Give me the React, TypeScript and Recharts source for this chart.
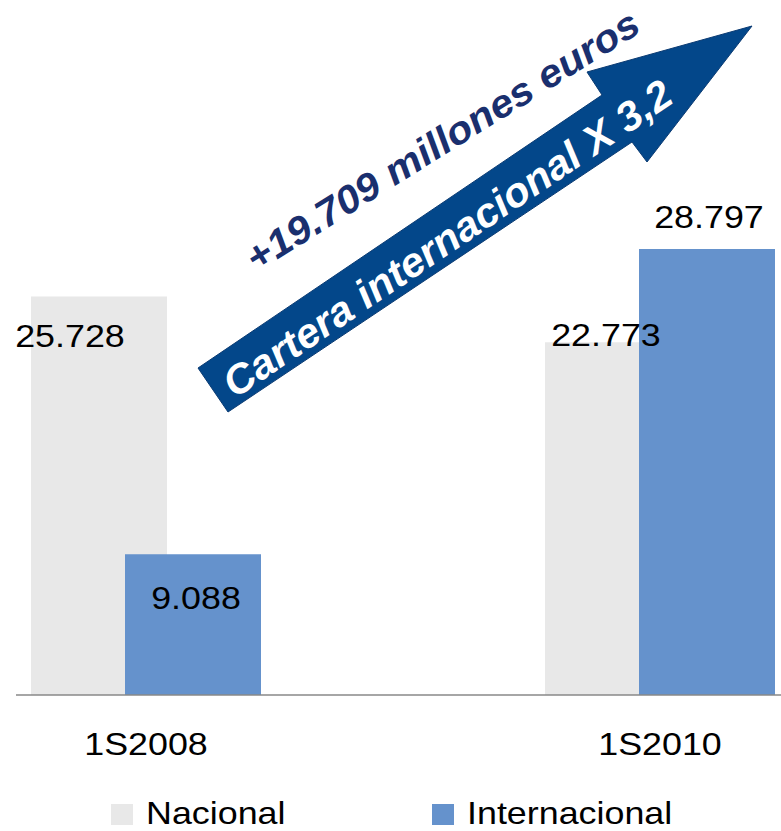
import React from 'react';
import { BarChart, Bar, XAxis, YAxis, Legend, LabelList } from 'recharts';

// chart values (thousands of euros)
const categories = ['1S2008', '1S2010'];
const nacional = [25728, 22773];
const internacional = [9088, 28797];
const seriesNames = ['Nacional', 'Internacional'];

const arrowTop = '+19.709 millones euros';
const arrowText = 'Cartera internacional X 3,2';

const data = categories.map((cat, i) => ({
  cat,
  nacional: nacional[i],
  internacional: internacional[i],
}));

const FONT = '"Liberation Sans", Arial, sans-serif';
const GREY = '#E8E8E8';
const BLUE = '#6592CC';
const STRETCH = 1.12;

const fmt = (v: number) => String(v).replace(/\B(?=(\d{3})+(?!\d))/g, '.');

// label placement relative to bar (dx from bar centre, dy from bar top to baseline)
const labelPos: Record<string, { dx: number; dy: number }[]> = {
  nacional: [{ dx: -29, dy: 50 }, { dx: -7, dy: 4 }],
  internacional: [{ dx: 3, dy: 55 }, { dx: 2, dy: -21 }],
};

const makeLabel = (key: string) => (props: any) => {
  const { x, y, width, value, index } = props;
  const p = labelPos[key][index] || { dx: 0, dy: -8 };
  const cx = Number(x) + Number(width) / 2 + p.dx;
  const by = Number(y) + p.dy;
  return (
    <text
      transform={`translate(${cx},${by}) scale(${STRETCH},1)`}
      textAnchor="middle"
      fontFamily={FONT}
      fontSize={32}
      fill="#000"
    >
      {fmt(value)}
    </text>
  );
};

const CatTick = (props: any) => {
  const { x, y, payload } = props;
  return (
    <text
      transform={`translate(${x},${y + 60}) scale(${STRETCH},1)`}
      textAnchor="middle"
      fontFamily={FONT}
      fontSize={32}
      fill="#000"
    >
      {payload.value}
    </text>
  );
};

const legendLeft = [111, 432];

const LegendContent = (props: any) => {
  const items = [...(props.payload || [])].sort(
    (a: any, b: any) => seriesNames.indexOf(a.value) - seriesNames.indexOf(b.value)
  );
  return (
    <div style={{ position: 'relative', width: 781, height: 40 }}>
      {items.map((it: any, i: number) => (
        <React.Fragment key={it.value}>
          <div
            style={{
              position: 'absolute',
              left: legendLeft[i],
              top: 13,
              width: 22,
              height: 21,
              background: it.color,
            }}
          />
          <span
            style={{
              position: 'absolute',
              left: legendLeft[i] + 35,
              top: 4,
              fontFamily: FONT,
              fontSize: 32,
              color: '#000',
              whiteSpace: 'nowrap',
              transform: `scaleX(${STRETCH})`,
              transformOrigin: 'left center',
            }}
          >
            {it.value}
          </span>
        </React.Fragment>
      ))}
    </div>
  );
};

// the big arrow annotation drawn on top of the chart
const ArrowOverlay = () => (
  <svg
    width={781}
    height={831}
    style={{ position: 'absolute', left: 0, top: 0, pointerEvents: 'none' }}
  >
    <polygon
      points="198,368 602,95 587,72 752,26 647,162 632,142 228,412"
      fill="#03478A"
      stroke="#0B3B73"
      strokeWidth={1}
    />
    <text
      x={447}
      y={238}
      dy="0.36em"
      transform="rotate(-34 447 238)"
      textAnchor="middle"
      fontFamily={FONT}
      fontWeight="bold"
      fontStyle="italic"
      fontSize={41}
      fill="#fff"
      textLength={532}
      lengthAdjust="spacingAndGlyphs"
    >
      {arrowText}
    </text>
    <text
      x={442}
      y={140}
      dy="0.36em"
      transform="rotate(-32 442 140)"
      textAnchor="middle"
      fontFamily={FONT}
      fontWeight="bold"
      fontStyle="italic"
      fontSize={39}
      fill="#1A2F6E"
      textLength={456}
      lengthAdjust="spacingAndGlyphs"
    >
      {arrowTop}
    </text>
  </svg>
);

export default function App() {
  return (
    <div
      style={{
        position: 'absolute',
        left: 0,
        top: 0,
        width: 781,
        height: 831,
        overflow: 'hidden',
        background: '#fff',
      }}
    >
      <BarChart
        width={781}
        height={831}
        data={data}
        margin={{ top: 153, right: 0, left: 16, bottom: 0 }}
        barGap={-42}
      >
        <XAxis
          dataKey="cat"
          height={96}
          tickLine={false}
          tickSize={0}
          tickMargin={0}
          axisLine={{ stroke: '#898989', strokeWidth: 1.5 }}
          padding={{ left: -127, right: -136 }}
          tick={<CatTick />}
          interval={0}
        />
        <YAxis hide domain={[0, 35000]} />
        <Legend
          verticalAlign="bottom"
          wrapperStyle={{ left: 0, width: 781, bottom: 0, height: 40 }}
          content={<LegendContent />}
        />
        <Bar dataKey="nacional" name={seriesNames[0]} fill={GREY} barSize={136} isAnimationActive={false}>
          <LabelList dataKey="nacional" content={makeLabel('nacional')} />
        </Bar>
        <Bar dataKey="internacional" name={seriesNames[1]} fill={BLUE} barSize={136} isAnimationActive={false}>
          <LabelList dataKey="internacional" content={makeLabel('internacional')} />
        </Bar>
      </BarChart>
      <ArrowOverlay />
    </div>
  );
}
